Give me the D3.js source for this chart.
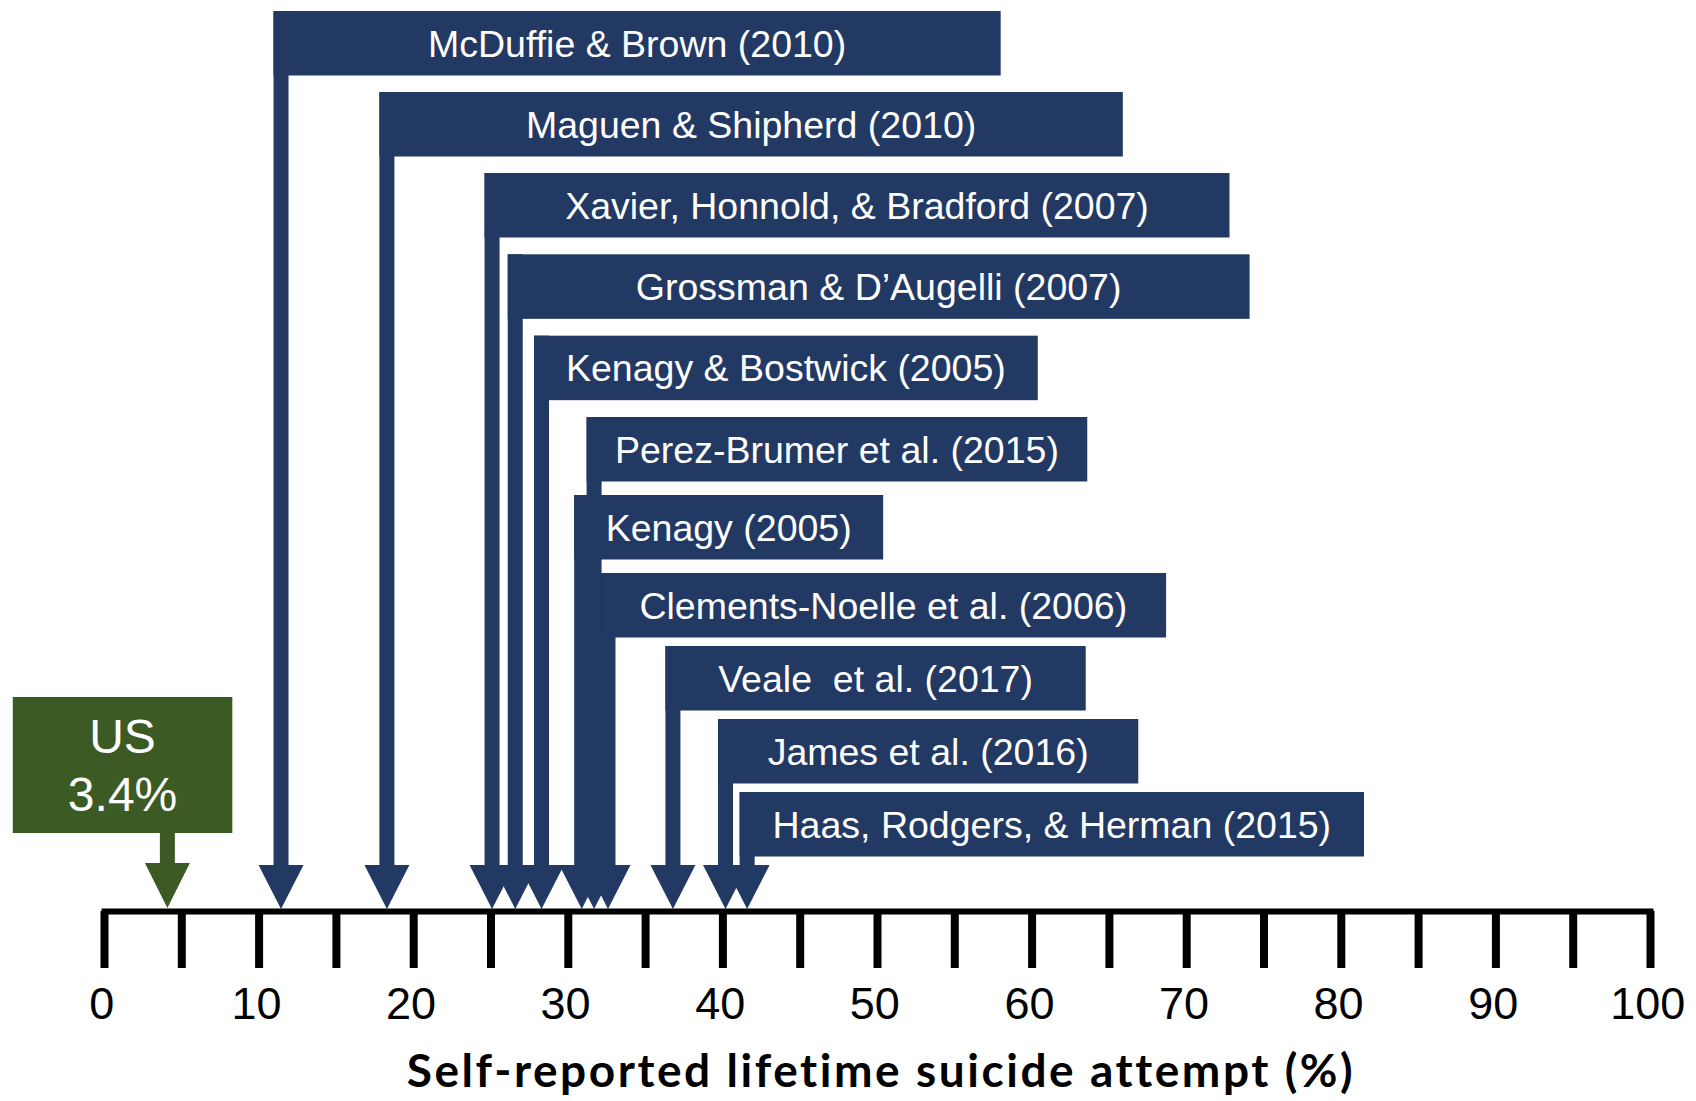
<!DOCTYPE html>
<html>
<head>
<meta charset="utf-8">
<script src="https://cdn.jsdelivr.net/npm/d3@7"></script>
<style>
  html, body { margin: 0; padding: 0; background: #ffffff; }
  svg { display: block; }
  text { white-space: pre; }
</style>
</head>
<body>
<svg id="chart" width="1696" height="1101"></svg>
<script>
// ---------------- DATA ----------------
const studies = [
  "McDuffie & Brown (2010)",
  "Maguen & Shipherd (2010)",
  "Xavier, Honnold, & Bradford (2007)",
  "Grossman & D\u2019Augelli (2007)",
  "Kenagy & Bostwick (2005)",
  "Perez-Brumer et al. (2015)",
  "Kenagy (2005)",
  "Clements-Noelle et al. (2006)",
  "Veale  et al. (2017)",
  "James et al. (2016)",
  "Haas, Rodgers, & Herman (2015)"
];
// self-reported lifetime suicide attempt (%) each arrow points to
const attemptRates = [11.45, 18.3, 25.1, 26.6, 28.3, 31.7, 30.9, 32.6, 36.8, 40.2, 41.6];
// where each study's label banner ends, in axis units (%)
const labelBoxEnds = [58.0, 65.9, 72.8, 74.1, 60.4, 63.6, 50.4, 68.7, 63.5, 66.9, 81.5];

const usLabelLines = ["US", "3.4%"];
const usArrowAt = 4.1;           // where the US arrow points on the axis
const usBoxSpan = [-5.9, 8.3];   // US banner extent, axis units

const tickValues = [0, 5, 10, 15, 20, 25, 30, 35, 40, 45, 50, 55, 60, 65, 70, 75, 80, 85, 90, 95, 100];
const tickLabels = ["0", "", "10", "", "20", "", "30", "", "40", "", "50", "", "60", "", "70", "", "80", "", "90", "", "100"];
const axisTitle = "Self-reported lifetime suicide attempt (%)";

// ---------------- STYLE ----------------
const BLUE = "#223963";
const GREEN = "#3c5a24";

const svg = d3.select("#chart");
const x = d3.scaleLinear().domain([0, 100]).range([104, 1650]);
const rowTop = d3.scaleLinear().domain([0, 2, 5, 7, 10]).range([11, 173, 417, 573, 792]);
const boxH = 64.5;
const axisY = 911;
const headTop = 865, tipY = 909, headHalf = 22.5, shaftW = 15;

const idx = d3.range(studies.length);

// arrows (shaft + head)
const arrows = svg.append("g");
arrows.selectAll("rect.shaft").data(idx).join("rect")
  .attr("class", "shaft")
  .attr("x", i => x(attemptRates[i]) - shaftW / 2)
  .attr("y", i => rowTop(i))
  .attr("width", shaftW)
  .attr("height", i => headTop - rowTop(i) + 1)
  .attr("fill", BLUE);
arrows.selectAll("path.head").data(idx).join("path")
  .attr("class", "head")
  .attr("d", i => {
    const cx = x(attemptRates[i]);
    return `M${cx - headHalf},${headTop}L${cx + headHalf},${headTop}L${cx},${tipY}Z`;
  })
  .attr("fill", BLUE);

// banners
const boxes = svg.append("g");
boxes.selectAll("rect").data(idx).join("rect")
  .attr("x", i => x(attemptRates[i]) - shaftW / 2)
  .attr("y", i => rowTop(i))
  .attr("width", i => x(labelBoxEnds[i]) - (x(attemptRates[i]) - shaftW / 2))
  .attr("height", boxH)
  .attr("fill", BLUE);
boxes.selectAll("text").data(idx).join("text")
  .attr("x", i => ((x(attemptRates[i]) - shaftW / 2) + x(labelBoxEnds[i])) / 2)
  .attr("y", i => rowTop(i) + boxH / 2 + 13.5)
  .attr("text-anchor", "middle")
  .attr("font-family", "'Liberation Sans', Arial, Helvetica, sans-serif")
  .attr("font-size", 37.5)
  .attr("fill", "#ffffff")
  .text(i => studies[i]);

// US banner + arrow
const us = svg.append("g");
const usTop = 697, usBottom = 833;
us.append("rect")
  .attr("x", x(usBoxSpan[0])).attr("y", usTop)
  .attr("width", x(usBoxSpan[1]) - x(usBoxSpan[0]))
  .attr("height", usBottom - usTop)
  .attr("fill", GREEN);
us.append("rect")
  .attr("x", x(usArrowAt) - shaftW / 2).attr("y", usBottom - 1)
  .attr("width", shaftW).attr("height", headTop - usBottom + 1)
  .attr("fill", GREEN);
us.append("path")
  .attr("d", () => {
    const cx = x(usArrowAt);
    return `M${cx - headHalf},${headTop - 2}L${cx + headHalf},${headTop - 2}L${cx},${tipY - 1}Z`;
  })
  .attr("fill", GREEN);
us.selectAll("text").data(usLabelLines).join("text")
  .attr("x", (x(usBoxSpan[0]) + x(usBoxSpan[1])) / 2)
  .attr("y", (d, i) => 753 + i * 58)
  .attr("text-anchor", "middle")
  .attr("font-family", "'Liberation Sans', Arial, Helvetica, sans-serif")
  .attr("font-size", 48)
  .attr("fill", "#ffffff")
  .text(d => d);

// axis
const axis = d3.axisBottom(x)
  .tickValues(tickValues)
  .tickSize(57)
  .tickSizeOuter(0)
  .tickPadding(19)
  .tickFormat((d, i) => tickLabels[i]);
const gAxis = svg.append("g").attr("transform", `translate(0,${axisY})`).call(axis);
gAxis.select(".domain").attr("stroke", "#000").attr("stroke-width", 6).attr("stroke-linecap", "square");
gAxis.selectAll(".tick line").attr("stroke", "#000").attr("stroke-width", 8);
gAxis.selectAll(".tick text")
  .attr("font-family", "'Liberation Sans', Arial, Helvetica, sans-serif")
  .attr("font-size", 45)
  .attr("dx", "-0.06em")
  .attr("fill", "#000");

// axis title
const title = svg.append("text")
  .attr("x", 881)
  .attr("y", 1087)
  .attr("text-anchor", "middle")
  .attr("font-family", "Lato, 'Open Sans', sans-serif")
  .attr("font-weight", 700)
  .attr("font-size", 46)
  .attr("fill", "#000")
  .text(axisTitle);
// fit the title to the same width as in the original
const targetW = 945;
let tw = title.node().getComputedTextLength();
if (tw > targetW) {
  title.attr("font-size", 46 * targetW / tw);
} else {
  title.attr("letter-spacing", (targetW - tw) / (axisTitle.length - 1));
}
</script>
</body>
</html>
